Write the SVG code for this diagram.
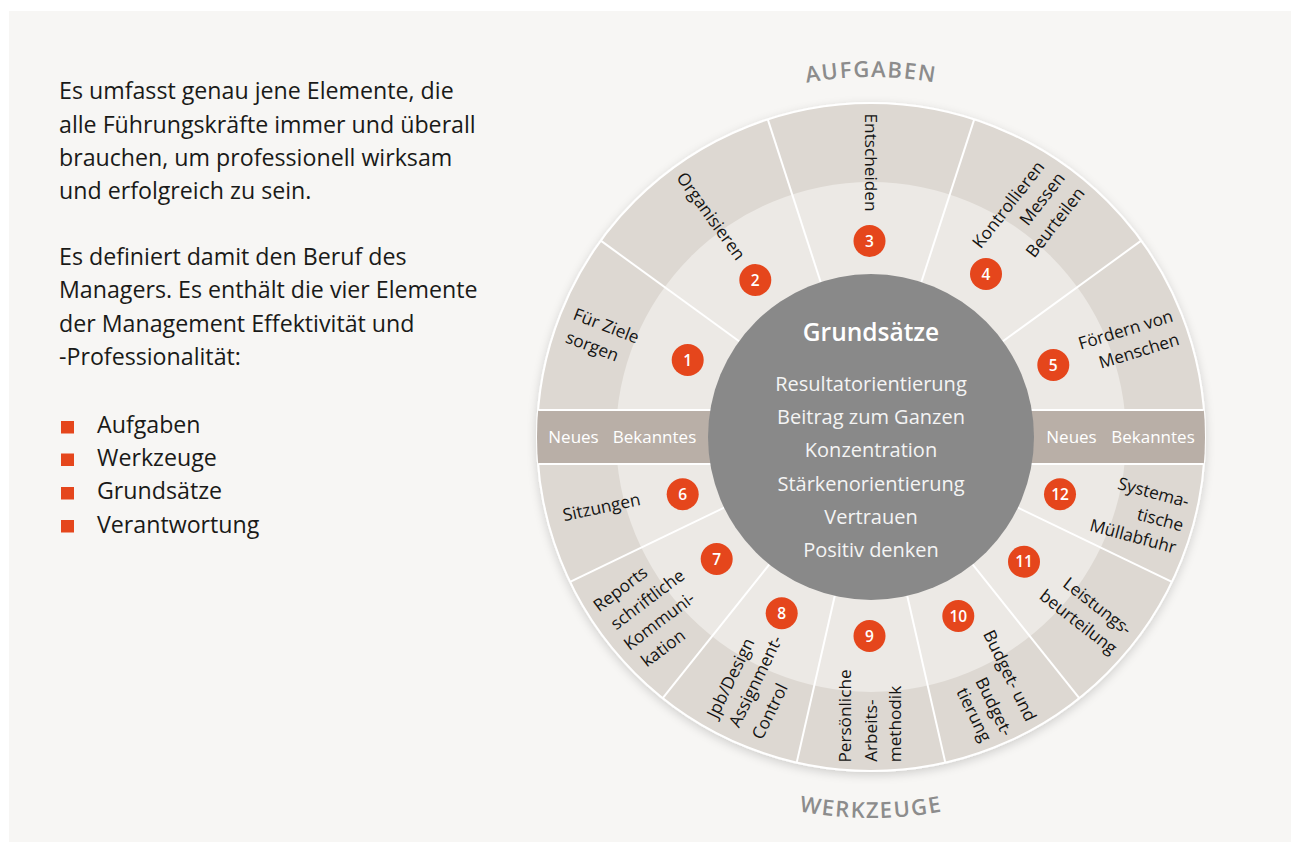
<svg xmlns="http://www.w3.org/2000/svg" width="1300" height="852" viewBox="0 0 1300 852">
<defs>
<style>
.body{font-family:"Open Sans","Noto Sans",sans-serif;font-size:23.2px;fill:#1a1a18}
.lbl{font-family:"Open Sans","Noto Sans",sans-serif;font-size:17.2px;fill:#141412;text-anchor:middle}
.num circle{fill:#e5461c}
.num text{font-family:"Open Sans","Noto Sans",sans-serif;font-size:15.5px;font-weight:600;fill:#ffffff;text-anchor:middle}
.ctr{font-family:"Open Sans","Noto Sans",sans-serif;font-size:20px;fill:#f4f4f4;text-anchor:middle}
.ctrhead{font-family:"Open Sans","Noto Sans",sans-serif;font-size:24.5px;font-weight:600;fill:#ffffff;text-anchor:middle}
.band{font-family:"Open Sans","Noto Sans",sans-serif;font-size:17px;fill:#ffffff;text-anchor:middle}
.title{font-family:"Open Sans","Noto Sans",sans-serif;font-size:22px;font-weight:600;fill:#8c8c8c;letter-spacing:1.6px}
.div{stroke:#ffffff;stroke-width:2;fill:none}
.bullet{fill:#e5461c}
</style>
<clipPath id="wheelClip"><circle cx="871" cy="437" r="334"/></clipPath>
<filter id="shadow" x="-10%" y="-10%" width="120%" height="125%">
<feDropShadow dx="0" dy="3" stdDeviation="5" flood-color="#000000" flood-opacity="0.16"/>
</filter>
<path id="arcTop" d="M 511 437 A 360 360 0 0 1 1231 437"/>
<path id="arcBottom" d="M 490 437 A 381 381 0 0 0 1252 437"/>
</defs>

<rect x="0" y="0" width="1300" height="852" fill="#ffffff"/>
<rect x="9" y="11" width="1282" height="831" fill="#f7f6f4"/>

<g id="intro-text">
<text class="body" x="59" y="99.3">Es umfasst genau jene Elemente, die</text>
<text class="body" x="59" y="132.7">alle Führungskräfte immer und überall</text>
<text class="body" x="59" y="166">brauchen, um professionell wirksam</text>
<text class="body" x="59" y="199.3">und erfolgreich zu sein.</text>
<text class="body" x="59" y="265">Es definiert damit den Beruf des</text>
<text class="body" x="59" y="298.3">Managers. Es enthält die vier Elemente</text>
<text class="body" x="59" y="331.7">der Management Effektivität und</text>
<text class="body" x="59" y="365">-Professionalität:</text>
</g>

<g id="intro-list">
<rect class="bullet" x="61" y="421" width="13" height="12.5"/>
<text class="body" x="97" y="432.7">Aufgaben</text>
<rect class="bullet" x="61" y="453.5" width="13" height="12.5"/>
<text class="body" x="97" y="466">Werkzeuge</text>
<rect class="bullet" x="61" y="487" width="13" height="12.5"/>
<text class="body" x="97" y="499.3">Grundsätze</text>
<rect class="bullet" x="61" y="520" width="13" height="12.5"/>
<text class="body" x="97" y="532.6">Verantwortung</text>
</g>

<g id="title-aufgaben">
<text class="title"><textPath href="#arcTop" startOffset="50%" text-anchor="middle">AUFGABEN</textPath></text>
</g>
<g id="title-werkzeuge">
<text class="title"><textPath href="#arcBottom" startOffset="50%" text-anchor="middle">WERKZEUGE</textPath></text>
</g>

<g id="wheel-base">
<circle cx="871" cy="437" r="334" fill="#ddd8d2" stroke="#ffffff" stroke-width="2" filter="url(#shadow)"/>
<circle cx="871" cy="437" r="255" fill="#ece9e5"/>
</g>

<g id="band" clip-path="url(#wheelClip)">
<rect x="530" y="410" width="684" height="54" fill="#b9afa7"/>
<line class="div" x1="530" y1="410" x2="1214" y2="410"/>
<line class="div" x1="530" y1="464" x2="1214" y2="464"/>
</g>

<g id="dividers">
<line class="div" x1="1002.87" y1="341.19" x2="1141.21" y2="240.68"/>
<line class="div" x1="921.37" y1="281.98" x2="974.21" y2="119.35"/>
<line class="div" x1="820.63" y1="281.98" x2="767.79" y2="119.35"/>
<line class="div" x1="739.13" y1="341.19" x2="600.79" y2="240.68"/>
<line class="div" x1="1017.86" y1="507.72" x2="1171.92" y2="581.92"/>
<line class="div" x1="972.63" y1="564.44" x2="1079.25" y2="698.13"/>
<line class="div" x1="907.27" y1="595.91" x2="945.32" y2="762.63"/>
<line class="div" x1="834.73" y1="595.91" x2="796.68" y2="762.63"/>
<line class="div" x1="769.37" y1="564.44" x2="662.75" y2="698.13"/>
<line class="div" x1="724.14" y1="507.72" x2="570.08" y2="581.92"/>
</g>

<g id="band-left">
<text class="band" x="573.5" y="443.3">Neues</text>
<text class="band" x="654.5" y="443.3">Bekanntes</text>
</g>
<g id="band-right">
<text class="band" x="1071.5" y="443.3">Neues</text>
<text class="band" x="1153" y="443.3">Bekanntes</text>
</g>

<g id="center-grundsaetze">
<circle cx="871" cy="437" r="163" fill="#898989"/>
<text class="ctrhead" x="871" y="340.5">Grundsätze</text>
<text class="ctr" x="871" y="390.5">Resultatorientierung</text>
<text class="ctr" x="871" y="424">Beitrag zum Ganzen</text>
<text class="ctr" x="871" y="457">Konzentration</text>
<text class="ctr" x="871" y="490.5">Stärkenorientierung</text>
<text class="ctr" x="871" y="524">Vertrauen</text>
<text class="ctr" x="871" y="557">Positiv denken</text>
</g>

<g id="sector-1">
<text class="lbl" transform="translate(606,326.5) rotate(21)" dy="0.3em">Für Ziele</text>
<text class="lbl" transform="translate(592,347) rotate(21)" dy="0.3em">sorgen</text>
<g class="num"><circle cx="687.7" cy="360" r="16"/><text x="687.7" y="365.5">1</text></g>
</g>
<g id="sector-2">
<text class="lbl" transform="translate(710.3,216.7) rotate(54)" dy="0.3em">Organisieren</text>
<g class="num"><circle cx="755.3" cy="280" r="16"/><text x="755.3" y="285.5">2</text></g>
</g>
<g id="sector-3">
<text class="lbl" transform="translate(870.5,162.5) rotate(90)" dy="0.3em">Entscheiden</text>
<g class="num"><circle cx="869.5" cy="241" r="16"/><text x="869.5" y="246.5">3</text></g>
</g>
<g id="sector-4">
<text class="lbl" transform="translate(1009,205) rotate(-52)" dy="0.3em">Kontrollieren</text>
<text class="lbl" transform="translate(1042.8,199.3) rotate(-52)" dy="0.3em">Messen</text>
<text class="lbl" transform="translate(1055.8,222.8) rotate(-52)" dy="0.3em">Beurteilen</text>
<g class="num"><circle cx="986" cy="274" r="16"/><text x="986" y="279.5">4</text></g>
</g>
<g id="sector-5">
<text class="lbl" transform="translate(1125.8,330.5) rotate(-17)" dy="0.3em">Fördern von</text>
<text class="lbl" transform="translate(1139.2,351.7) rotate(-17)" dy="0.3em">Menschen</text>
<g class="num"><circle cx="1053.3" cy="365" r="16"/><text x="1053.3" y="370.5">5</text></g>
</g>
<g id="sector-6">
<text class="lbl" transform="translate(601.7,508) rotate(-12)" dy="0.3em">Sitzungen</text>
<g class="num"><circle cx="682.7" cy="494.3" r="16"/><text x="682.7" y="499.8">6</text></g>
</g>
<g id="sector-7">
<text class="lbl" transform="translate(620.8,589.5) rotate(-37)" dy="0.3em">Reports</text>
<text class="lbl" transform="translate(648,600) rotate(-37)" dy="0.3em">schriftliche</text>
<text class="lbl" transform="translate(659.7,621.7) rotate(-37)" dy="0.3em">Kommuni-</text>
<text class="lbl" transform="translate(663.7,648.7) rotate(-37)" dy="0.3em">kation</text>
<g class="num"><circle cx="716.7" cy="559" r="16"/><text x="716.7" y="564.5">7</text></g>
</g>
<g id="sector-8">
<text class="lbl" transform="translate(731.3,678.3) rotate(-64)" dy="0.3em">Jpb/Design</text>
<text class="lbl" transform="translate(756.2,681.7) rotate(-64)" dy="0.3em">Assignment-</text>
<text class="lbl" transform="translate(770.5,711.7) rotate(-64)" dy="0.3em">Control</text>
<g class="num"><circle cx="781.7" cy="613.3" r="16"/><text x="781.7" y="618.8">8</text></g>
</g>
<g id="sector-9">
<text class="lbl" transform="translate(845.5,716) rotate(-90)" dy="0.3em">Persönliche</text>
<text class="lbl" transform="translate(871.5,730.7) rotate(-90)" dy="0.3em">Arbeits-</text>
<text class="lbl" transform="translate(895.4,724) rotate(-90)" dy="0.3em">methodik</text>
<g class="num"><circle cx="869.5" cy="636" r="16"/><text x="869.5" y="641.5">9</text></g>
</g>
<g id="sector-10">
<text class="lbl" transform="translate(1009,676) rotate(64)" dy="0.3em">Budget- und</text>
<text class="lbl" transform="translate(993.5,707) rotate(64)" dy="0.3em">Budget-</text>
<text class="lbl" transform="translate(973.3,715) rotate(64)" dy="0.3em">tierung</text>
<g class="num"><circle cx="958.3" cy="616" r="16"/><text x="958.3" y="621.5">10</text></g>
</g>
<g id="sector-11">
<text class="lbl" transform="translate(1097,606.7) rotate(38)" dy="0.3em">Leistungs-</text>
<text class="lbl" transform="translate(1077.8,622.5) rotate(38)" dy="0.3em">beurteilung</text>
<g class="num"><circle cx="1024" cy="561.7" r="16"/><text x="1024" y="567.2">11</text></g>
</g>
<g id="sector-12">
<text class="lbl" transform="translate(1153.3,493.3) rotate(15)" dy="0.3em">Systema-</text>
<text class="lbl" transform="translate(1160.2,520.5) rotate(15)" dy="0.3em">tische</text>
<text class="lbl" transform="translate(1132.8,537) rotate(15)" dy="0.3em">Müllabfuhr</text>
<g class="num"><circle cx="1060" cy="494.3" r="16"/><text x="1060" y="499.8">12</text></g>
</g>
</svg>
